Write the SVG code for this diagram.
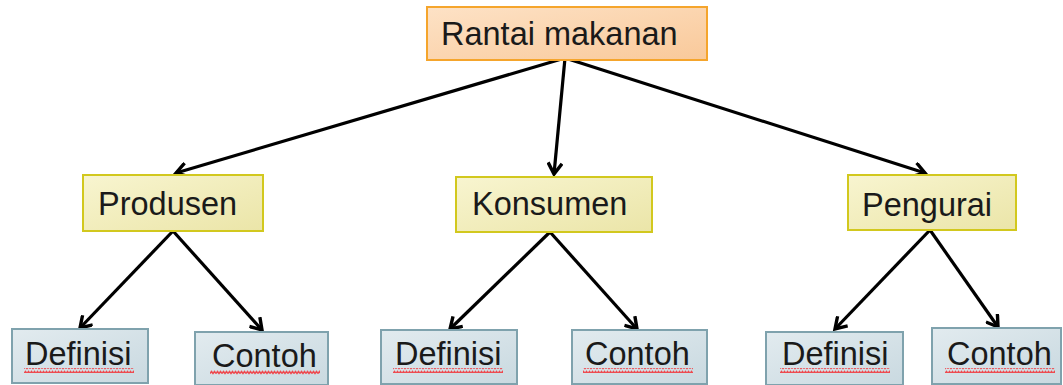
<svg xmlns="http://www.w3.org/2000/svg" width="1063" height="385" viewBox="0 0 1063 385">
<defs>
<linearGradient id="gRoot" x1="0" y1="0" x2="1" y2="1">
<stop offset="0" stop-color="#fde2c6"/><stop offset="1" stop-color="#f9c99a"/>
</linearGradient>
<linearGradient id="gMid" x1="0" y1="0" x2="1" y2="1">
<stop offset="0" stop-color="#f8f5d0"/><stop offset="1" stop-color="#ebe5a8"/>
</linearGradient>
<linearGradient id="gLeaf" x1="0" y1="0" x2="1" y2="1">
<stop offset="0" stop-color="#e2ebef"/><stop offset="1" stop-color="#c9d9e0"/>
</linearGradient>
<marker id="arr" markerWidth="16" markerHeight="16" viewBox="-13 -8 16 16" refX="0" refY="0" orient="auto" markerUnits="userSpaceOnUse">
<polyline points="-11,-7 0,0 -11,7" fill="none" stroke="#000" stroke-width="3.4" stroke-linejoin="miter"/>
</marker>
<pattern id="wave" width="6" height="5" patternUnits="userSpaceOnUse">
<path d="M0,3.5 L1.5,1.5 L3,3.5 L4.5,1.5 L6,3.5" fill="none" stroke="#ee4a4f" stroke-width="1.5"/>
</pattern>
</defs>
<style>
.root{fill:url(#gRoot);stroke:#f5a52c;stroke-width:2}
.mid{fill:url(#gMid);stroke:#d2c81e;stroke-width:2}
.leaf{fill:url(#gLeaf);stroke:#7fa2ad;stroke-width:2}
text{font-family:"Liberation Sans",Arial,sans-serif;font-size:32.5px;fill:#1a1a1a}
.con line{stroke:#000;stroke-width:3.2;marker-end:url(#arr)}
.sq{fill:url(#wave)}
</style>
<g id="connectors" class="con">
<line x1="565" y1="58" x2="176" y2="173"/>
<line x1="565" y1="58" x2="554" y2="174"/>
<line x1="565" y1="58" x2="925" y2="173"/>
<line x1="173" y1="231" x2="80" y2="328"/>
<line x1="173" y1="231" x2="262" y2="330"/>
<line x1="550" y1="232" x2="450" y2="329"/>
<line x1="550" y1="232" x2="637" y2="329"/>
<line x1="930" y1="230" x2="835" y2="329"/>
<line x1="930" y1="230" x2="998" y2="327"/>
</g>
<g id="root"><rect class="root" x="427" y="7" width="280" height="53"/><text x="441" y="45">Rantai makanan</text></g>
<g id="produsen"><rect class="mid" x="83" y="175" width="180" height="56"/><text x="98" y="215">Produsen</text></g>
<g id="konsumen"><rect class="mid" x="456" y="177" width="196" height="55"/><text x="472" y="215">Konsumen</text></g>
<g id="pengurai"><rect class="mid" x="848" y="175" width="168" height="55"/><text x="862" y="216">Pengurai</text></g>
<g id="definisi1"><rect class="leaf" x="12" y="329" width="136" height="54"/><text x="25" y="365">Definisi</text><rect class="sq" x="24" y="368" width="110" height="5"/></g>
<g id="contoh1"><rect class="leaf" x="195" y="332" width="133" height="53"/><text x="212" y="367">Contoh</text><rect class="sq" x="210" y="370" width="110" height="5"/></g>
<g id="definisi2"><rect class="leaf" x="381" y="330" width="136" height="54"/><text x="395" y="365">Definisi</text><rect class="sq" x="393" y="368" width="110" height="5"/></g>
<g id="contoh2"><rect class="leaf" x="572" y="330" width="135" height="54"/><text x="585" y="365">Contoh</text><rect class="sq" x="583" y="368" width="110" height="5"/></g>
<g id="definisi3"><rect class="leaf" x="766" y="332" width="137" height="53"/><text x="782" y="365">Definisi</text><rect class="sq" x="780" y="368" width="110" height="5"/></g>
<g id="contoh3"><rect class="leaf" x="932" y="328" width="129" height="56"/><text x="947" y="365">Contoh</text><rect class="sq" x="945" y="368" width="110" height="5"/></g>
</svg>
